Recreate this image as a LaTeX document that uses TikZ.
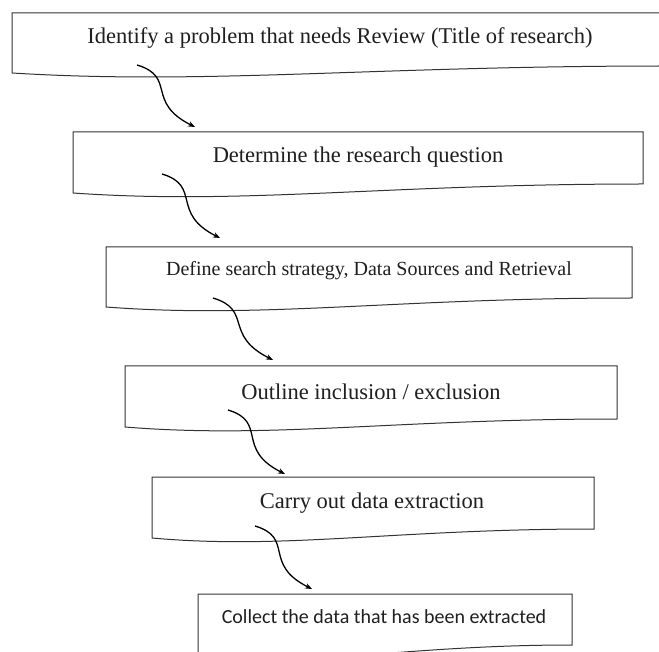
\documentclass[tikz,border=0pt]{standalone}
\usepackage{fontspec}
\setmainfont{Liberation Serif}
\newfontfamily\calibfont{Carlito}
\usetikzlibrary{arrows.meta}
\tikzset{
  boxline/.style={draw=black!80, line width=1pt},
  lbl/.style={inner sep=0pt, text=black!88, font=\fontsize{22.5}{27}\selectfont},
  lblsmall/.style={inner sep=0pt, text=black!88, font=\fontsize{20}{24}\selectfont},
  lblsans/.style={inner sep=0pt, text=black!88, font=\calibfont\fontsize{20}{24}\selectfont},
  flow/.style={draw=black, line width=1.3pt, -{Stealth[length=7pt,width=5.5pt]}}
}
\newcommand\docbox[5]{%
  \pgfmathsetmacro\dbxa{#1+0.55*(#3-#1)}%
  \pgfmathsetmacro\dbxb{#1+0.3*(#3-#1)}%
  \pgfmathsetmacro\dbyb{#5+12}%
  \draw[boxline] (#1,#2) -- (#3,#2) -- (#3,#4) .. controls (\dbxa,#4) and (\dbxb,\dbyb) .. (#1,#5) -- cycle;}
\begin{document}
\begin{tikzpicture}[x=1pt,y=-1pt]
  \clip (0,0) rectangle (659,652);
  \fill[white] (0,0) rectangle (659,652);
  % boxes
  \docbox{12}{13}{665}{66}{73}
  \docbox{73}{132}{643}{184}{193}
  \docbox{106}{247}{632}{298}{307}
  \docbox{125}{366}{617}{419}{427}
  \docbox{152}{477}{594}{529}{538}
  \docbox{198}{594}{572}{645}{656}
  % labels
  \node[lbl] (t1) at (340,38) {Identify a problem that needs Review (Title of research)};
  \node[lbl] (t2) at (358,157) {Determine the research question};
  \node[lblsmall] (t3) at (369,271) {Define search strategy, Data Sources and Retrieval};
  \node[lbl] (t4) at (371,392) {Outline inclusion / exclusion};
  \node[lbl] (t5) at (372,503) {Carry out data extraction};
  \node[lblsans] (t6) at (384,617) {Collect the data that has been extracted};
  % connector ends
  \coordinate (s1) at (137,65);  \coordinate (e1) at (195,127);
  \coordinate (s2) at (162,174); \coordinate (e2) at (220,238);
  \coordinate (s3) at (213,298); \coordinate (e3) at (273,360);
  \coordinate (s4) at (228,410); \coordinate (e4) at (285,474);
  \coordinate (s5) at (255,526); \coordinate (e5) at (312,589);
  \foreach \i in {1,...,5}{
    \draw[flow] (s\i) .. controls +(40,12) and +(-50,-25) .. (e\i);
  }
\end{tikzpicture}
\end{document}
